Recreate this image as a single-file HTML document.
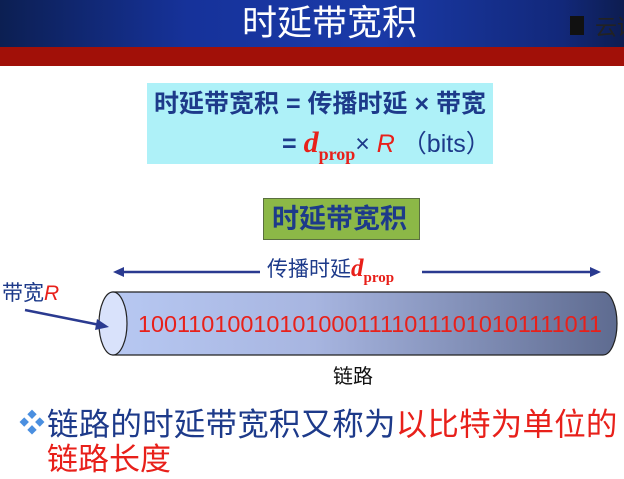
<!DOCTYPE html>
<html><head><meta charset="utf-8"><style>
body{margin:0;width:624px;height:479px;overflow:hidden;background:#fff;position:relative;font-family:"Liberation Sans","Noto Sans CJK SC",sans-serif}
.a{position:absolute;white-space:nowrap}
</style></head><body>
<div class="a" style="left:0;top:0;width:624px;height:47px;background:linear-gradient(90deg,#0c1f52 0%,#16329a 30%,#1a3aa8 60%,#12287a 90%,#0d1d50 100%)"></div>
<div class="a" style="left:0;top:47px;width:624px;height:19px;background:#a11008"></div>
<div class="a" style="left:242px;top:-1px;font-size:35px;color:#fff;font-family:'Noto Sans CJK SC',sans-serif;line-height:44px">时延带宽积</div>
<div class="a" style="left:570px;top:16px;width:14px;height:19px;background:#111"></div>
<div class="a" style="left:595px;top:12px;font-size:22px;color:#222;line-height:28px;font-family:'Noto Sans CJK SC',sans-serif">云课</div>

<div class="a" style="left:147px;top:83px;width:346px;height:81px;background:#aef1f8"></div>
<div class="a" style="left:154px;top:88px;font-size:25px;font-weight:bold;color:#1d3a8a;line-height:32px">时延带宽积 = 传播时延 × 带宽</div>
<div class="a" style="left:282px;top:127px;font-size:25px;color:#1d3a8a;line-height:32px"><b>=</b> <b style="color:#e8201a;font-family:'Liberation Serif',serif;font-style:italic;font-size:30px">d</b><b style="color:#e8201a;font-family:'Liberation Serif',serif;font-size:18px;position:relative;top:8px">prop</b>× <i style="color:#e8201a">R</i> （bits）</div>

<div class="a" style="left:263px;top:198px;width:155px;height:40px;background:#8cb847;border:1px solid #5a6f40"></div>
<div class="a" style="left:272px;top:202px;font-size:27px;font-weight:bold;color:#1d3a8a;line-height:34px">时延带宽积</div>

<svg class="a" style="left:0;top:0" width="624" height="479">
<defs>
<linearGradient id="g" x1="0" x2="1"><stop offset="0" stop-color="#b7c8f2"/><stop offset="0.4" stop-color="#a7b5e0"/><stop offset="1" stop-color="#5e6b90"/></linearGradient>
</defs>
<path d="M113 292 H603 A14 31.5 0 0 1 603 355 H113 Z" fill="url(#g)" stroke="#222" stroke-width="1.2"/>
<ellipse cx="113" cy="323.5" rx="14" ry="31.5" fill="#d9e2fb" stroke="#222" stroke-width="1.2"/>
<line x1="120" y1="272" x2="260" y2="272" stroke="#2a3a90" stroke-width="2.5"/>
<polygon points="113,272 124,267 124,277" fill="#2a3a90"/>
<line x1="422" y1="272" x2="592" y2="272" stroke="#2a3a90" stroke-width="2.5"/>
<polygon points="601,272 590,267 590,277" fill="#2a3a90"/>
<line x1="25" y1="310" x2="100" y2="325" stroke="#2a3a90" stroke-width="2.5"/>
<polygon points="109,327 97,319 95,330" fill="#2a3a90"/>
</svg>
<div class="a" style="left:267px;top:256px;font-size:21px;color:#1d3a8a;line-height:26px">传播时延<b style="color:#e8201a;font-family:'Liberation Serif',serif;font-style:italic;font-size:25px">d</b><b style="color:#e8201a;font-family:'Liberation Serif',serif;font-size:15px;position:relative;top:6px">prop</b></div>
<div class="a" style="left:2px;top:281px;font-size:21px;color:#1d3a8a;line-height:26px">带宽<i style="color:#e8201a">R</i></div>
<div class="a" style="left:138px;top:310px;font-size:23.4px;color:#e8201a;line-height:28px">1001101001010100011110111010101111011</div>
<div class="a" style="left:333px;top:364px;font-size:20px;color:#111;line-height:26px">链路</div>

<div class="a" style="left:19px;top:405px;font-size:26px;color:#4a8fe0;line-height:36px">❖</div>
<div class="a" style="left:47px;top:406px;font-size:31.5px;letter-spacing:0.2px;color:#1d3a8a;line-height:36px">链路的时延带宽积又称为<span style="color:#e8201a">以比特为单位的</span></div>
<div class="a" style="left:47px;top:442px;font-size:31px;color:#e8201a;line-height:36px">链路长度</div>
</body></html>
